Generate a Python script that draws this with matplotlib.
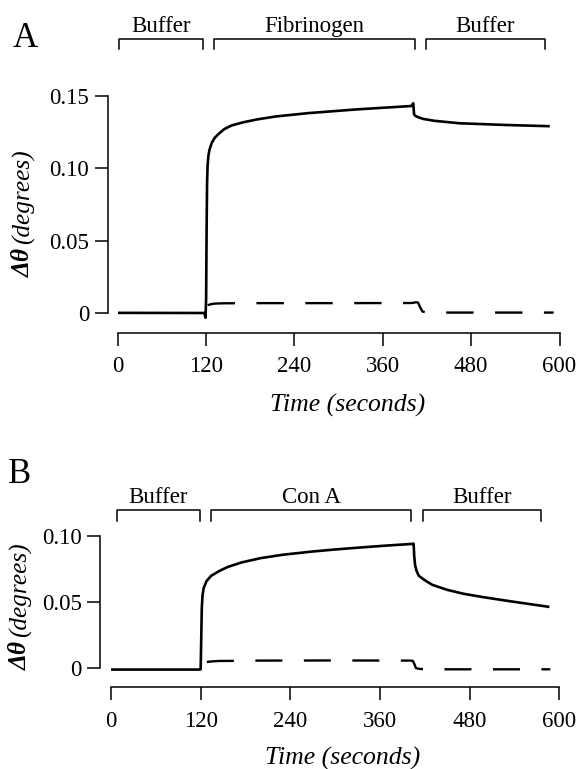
import numpy as np
import matplotlib
matplotlib.use('Agg')
import matplotlib.pyplot as plt
import matplotlib.transforms as mtransforms

plt.rcParams['font.family'] = ['Liberation Serif', 'DejaVu Serif']

#==============================================================================
# data
#==============================================================================

# panel A : fibrinogen
t_a_solid = [0, 118, 119.5, 120.3, 121, 121.6, 122.3, 123.5, 125, 128, 132, 138, 145,
             155, 171, 190, 215, 259, 326, 399, 401.5, 402.5, 404, 408, 415, 430,
             464, 528, 585]
v_a_solid = [0.0003, 0.0002, -0.003, 0.01, 0.06, 0.09, 0.102, 0.109, 0.113, 0.1175,
             0.121, 0.124, 0.127, 0.1295, 0.1317, 0.1337, 0.1357, 0.138, 0.1406,
             0.1429, 0.1448, 0.1375, 0.1362, 0.1352, 0.134, 0.1327, 0.131, 0.1298,
             0.129]
t_a_dash = [120, 120.8, 121.5, 123, 126, 132, 145, 200, 300, 400, 405, 408, 411, 414,
            420, 450, 592]
v_a_dash = [-0.003, 0.002, 0.0045, 0.0055, 0.0062, 0.0067, 0.0069, 0.007, 0.007,
            0.0071, 0.0076, 0.0074, 0.004, 0.0012, 0.0006, 0.0005, 0.0005]

# panel B : con A
t_b_solid = [0, 118, 120, 120.7, 121.5, 122.5, 124, 128, 134, 145, 156, 175, 200, 230,
             267, 300, 334, 370, 403, 405, 405.8, 407, 409, 412, 420, 430, 450, 472,
             500, 535, 585]
v_b_solid = [-0.0012, -0.0012, -0.001, 0.02, 0.045, 0.055, 0.0605, 0.066, 0.0698,
             0.0735, 0.0765, 0.08, 0.0832, 0.0858, 0.0881, 0.0898, 0.0913, 0.0928,
             0.094, 0.0942, 0.085, 0.0779, 0.0735, 0.0698, 0.0665, 0.063, 0.0592,
             0.0562, 0.0535, 0.0505, 0.0464]
t_b_dash = [120, 121, 122, 124, 128, 135, 145, 200, 300, 400, 404, 406, 408, 411, 415,
            450, 588]
v_b_dash = [-0.001, 0.0015, 0.003, 0.0038, 0.0045, 0.005, 0.0053, 0.0056, 0.0057,
            0.0056, 0.0054, 0.003, 0.0, -0.0005, -0.0008, -0.001, -0.001]

# injection periods
spans_a = [(2, 116), (131, 404), (419, 580)]
names_a = ['Buffer', 'Fibrinogen', 'Buffer']
spans_b = [(8, 119), (134, 402), (418, 576)]
names_b = ['Buffer', 'Con A', 'Buffer']

x_ticks = [0, 120, 240, 360, 480, 600]
y_ticks_a = [0, 0.05, 0.10, 0.15]
y_labels_a = ['0', '0.05', '0.10', '0.15']
y_ticks_b = [0, 0.05, 0.10]
y_labels_b = ['0', '0.05', '0.10']

W, H = 580, 769


def fy(px):
    # pixel row -> figure fraction
    return 1 - px / H


#==============================================================================
# one panel
#==============================================================================

def panel(fig, rect, ylim, yticks, ylabels, t_s, v_s, t_d, v_d, dash, spans, names,
          brk, out_left, out_bottom):
    ax = fig.add_axes(rect)
    ax.plot(t_s, v_s, color='k', lw=1.9, solid_joinstyle='round')
    ax.plot(t_d, v_d, color='k', lw=1.7, linestyle=dash)
    ax.set_xlim(0, 600)
    ax.set_ylim(*ylim)

    for s in ['top', 'right']:
        ax.spines[s].set_visible(False)
    ax.spines['left'].set_position(('outward', out_left))
    ax.spines['bottom'].set_position(('outward', out_bottom))
    ax.spines['left'].set_bounds(0, yticks[-1])
    ax.spines['bottom'].set_bounds(0, 600)
    for s in ['left', 'bottom']:
        ax.spines[s].set_linewidth(1.1)

    ax.set_xticks(x_ticks)
    ax.set_xticklabels([str(x) for x in x_ticks])
    ax.set_yticks(yticks)
    ax.set_yticklabels(ylabels)
    ax.tick_params(axis='both', direction='out', length=9.6, width=1.1,
                   labelsize=16.5)
    ax.tick_params(axis='x', pad=7)
    ax.tick_params(axis='y', pad=3.6)

    # brackets with names above the panel
    trans = mtransforms.blended_transform_factory(ax.transData, fig.transFigure)
    y_top, y_bot, y_txt = brk
    for (x0, x1), name in zip(spans, names):
        ax.plot([x0, x0, x1, x1], [y_bot, y_top, y_top, y_bot], color='k', lw=1.1,
                transform=trans, clip_on=False)
        ax.text((x0 + x1) / 2, y_txt, name, transform=trans, ha='center',
                va='baseline', fontsize=16.5)
    return ax


def ylabel(fig, x_base, y_start):
    # bold italic delta-theta, then "(degrees)" in italic, reading upward
    t1 = fig.text(x_base / W, fy(y_start), 'Δθ', fontsize=18.2, style='italic',
                  weight='bold', rotation=90, rotation_mode='anchor',
                  ha='left', va='baseline')
    fig.canvas.draw()
    bb = t1.get_window_extent()
    y_next = bb.y1 + 4
    fig.text(x_base / W, y_next / H, '(degrees)', fontsize=18.2, style='italic',
             rotation=90, rotation_mode='anchor', ha='left', va='baseline')


fig = plt.figure(figsize=(W / 100, H / 100), dpi=100)

# panel A
panel(fig, [117.5 / W, fy(322.0), 442 / W, (322.0 - 95.7) / H], (-0.006, 0.15),
      y_ticks_a, y_labels_a, t_a_solid, v_a_solid, t_a_dash, v_a_dash,
      (15.4, (11.6, 9.1)), spans_a, names_a, (fy(39), fy(49), fy(32)), 7.06, 7.56)
fig.text(13 / W, fy(46.7), 'A', fontsize=25, va='baseline', ha='left')
fig.text(348 / W, fy(411.7), 'Time (seconds)', fontsize=18.5, style='italic',
         ha='center', va='baseline')
ylabel(fig, 30, 276.7)

# panel B
panel(fig, [111 / W, fy(675.9), 448.3 / W, (675.9 - 536) / H], (-0.006, 0.10),
      y_ticks_b, y_labels_b, t_b_solid, v_b_solid, t_b_dash, v_b_dash,
      (16.0, (11.44, 9.1)), spans_b, names_b, (fy(510), fy(521), fy(503)), 7.92, 8.35)
fig.text(8.3 / W, fy(483.3), 'B', fontsize=25, va='baseline', ha='left')
fig.text(343 / W, fy(765), 'Time (seconds)', fontsize=18.5, style='italic',
         ha='center', va='baseline')
ylabel(fig, 27, 670)

fig.savefig('out.png', dpi=100)
